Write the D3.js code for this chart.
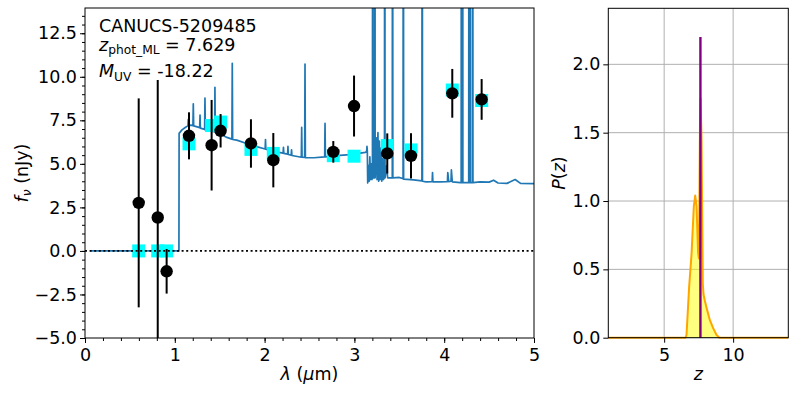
<!DOCTYPE html>
<html>
<head>
<meta charset="utf-8">
<script src="https://cdn.jsdelivr.net/npm/d3@7"></script>
<style>
  body { margin: 0; background: #fff; }
  text { font-family: "DejaVu Sans", sans-serif; }
</style>
</head>
<body>
<svg id="chart" width="797" height="399"></svg>
<script>
// ---- data ----
// model SED (wavelength in micron, flux in nJy)
var specLam = [0.056, 1.046, 1.048, 1.08, 1.12, 1.146, 1.150, 1.154, 1.18, 1.202, 1.206, 1.210,
  1.25, 1.277, 1.281, 1.285, 1.332, 1.336, 1.340, 1.40, 1.443, 1.447, 1.451, 1.50, 1.58,
  1.636, 1.640, 1.644, 1.69, 1.80, 1.90, 2.006, 2.010, 2.014, 2.10, 2.206, 2.210, 2.214,
  2.256, 2.260, 2.264, 2.296, 2.300, 2.304, 2.409, 2.413, 2.417, 2.446, 2.450, 2.454,
  2.55, 2.669, 2.673, 2.677, 2.80, 2.95, 3.05, 3.12, 3.136, 3.140, 3.144,
  3.148, 3.158, 3.165, 3.172, 3.180, 3.188, 3.195, 3.201, 3.204, 3.207, 3.225, 3.228, 3.231,
  3.245, 3.252, 3.262, 3.270, 3.278, 3.286, 3.296, 3.305, 3.315, 3.322, 3.335, 3.338, 3.341,
  3.36, 3.37, 3.422, 3.425, 3.428, 3.50, 3.542, 3.545, 3.548, 3.66, 3.752, 3.755, 3.758,
  3.80, 3.866, 3.870, 3.874, 3.95, 4.036, 4.040, 4.050, 4.076, 4.080, 4.090, 4.18,
  4.189, 4.192, 4.195, 4.202, 4.205, 4.208, 4.273, 4.276, 4.279, 4.285, 4.288, 4.291,
  4.314, 4.317, 4.320, 4.40, 4.50, 4.55, 4.60, 4.70, 4.79, 4.85, 5.0];
var specFlux = [0, 0, 6.75, 6.95, 7.1, 7.18, 7.55, 7.2, 7.22, 7.2, 8.45, 7.18,
  7.12, 7.08, 7.8, 7.05, 6.98, 8.78, 6.95, 6.88, 6.85, 9.4, 6.82, 6.75, 6.52,
  6.42, 10.77, 6.4, 6.36, 6.17, 6.0, 5.85, 6.4, 5.84, 5.72, 5.62, 5.95, 5.6,
  5.56, 6.0, 5.54, 5.5, 5.8, 5.48, 5.38, 7.09, 5.38, 5.37, 10.73, 5.36,
  5.35, 5.4, 7.32, 5.4, 5.47, 5.53, 5.6, 5.66, 5.7, 6.0, 5.72,
  3.9, 4.9, 4.0, 5.4, 4.1, 5.0, 4.1, 4.2, 40, 4.2, 4.2, 40, 4.2,
  6.5, 4.1, 6.8, 4.0, 6.3, 4.1, 5.9, 4.0, 5.3, 4.1, 4.2, 40, 4.2,
  4.9, 4.2, 4.2, 40, 4.2, 4.22, 4.15, 40, 4.12, 4.08, 4.02, 40, 4.0,
  3.97, 3.98, 4.5, 3.97, 3.97, 3.98, 4.5, 3.98, 4.0, 4.65, 3.97, 3.92,
  3.92, 40, 3.92, 3.92, 40, 3.92, 3.92, 40, 3.92, 3.92, 40, 3.92,
  3.92, 40, 3.92, 3.97, 3.95, 4.06, 3.9, 3.88, 4.1, 3.88, 3.86];

// photometry (observed) and model photometry
var photLam   = [0.598, 0.81, 0.909, 1.158, 1.41, 1.51, 1.848, 2.097, 2.765, 2.996, 3.366, 3.63, 4.09, 4.417];
var photFlux  = [2.76, 1.92, -1.17, 6.61, 6.07, 6.9, 6.17, 5.21, 5.69, 8.32, 5.6, 5.46, 9.05, 8.7];
var photErr   = [6.0, 7.9, 1.28, 1.35, 2.6, 0.96, 1.39, 1.56, 0.62, 1.75, 1.15, 1.3, 1.4, 1.17];
var modelFlux = [0, 0, 0, 6.15, 7.2, 7.4, 5.83, 5.6, 5.47, 5.44, 6.05, 5.8, 9.24, 8.64];

// redshift probability distribution
var pzZ = [0.95, 6.55, 6.62, 6.81, 6.99, 7.15, 7.25, 7.35, 7.46, 7.52, 7.60, 7.64, 7.71,
  7.80, 7.85, 7.95, 8.07, 8.31, 8.55, 8.80, 9.0, 14];
var pzP = [0, 0, 0.02, 0.37, 0.62, 0.96, 1.04, 0.96, 0.62, 0.58, 1.6, 1.75, 1.45,
  0.40, 0.32, 0.27, 0.22, 0.13, 0.07, 0.02, 0, 0];
var zBest = 7.629, zBestPeak = 2.2;

var xTicksL = [0, 1, 2, 3, 4, 5];
var yTicksL = [-5, -2.5, 0, 2.5, 5, 7.5, 10, 12.5];
var xTicksR = [5, 10];
var yTicksR = [0, 0.5, 1, 1.5, 2];

// ---- layout ----
var svg = d3.select("#chart");
var L = {left: 85, right: 534, top: 8, bottom: 338};
var R = {left: 608.3, right: 788.3, top: 8.3, bottom: 337.7};
var fs = 17.5;

var x = d3.scaleLinear().domain([0, 5]).range([L.left, L.right]);
var y = d3.scaleLinear().domain([-5, 13.95]).range([L.bottom, L.top]);
var xr = d3.scaleLinear().domain([0.95, 14]).range([R.left, R.right]);
var yr = d3.scaleLinear().domain([0, 2.41]).range([R.bottom, R.top]);

svg.append("defs").append("clipPath").attr("id", "clipL")
  .append("rect").attr("x", L.left).attr("y", L.top)
  .attr("width", L.right - L.left).attr("height", L.bottom - L.top);

// ---- left panel ----
var plotL = svg.append("g").attr("clip-path", "url(#clipL)");

var spec = specLam.map(function(d, i) { return [d, specFlux[i]]; });
var line = d3.line().x(function(d) { return x(d[0]); }).y(function(d) { return y(d[1]); });
plotL.append("path")
  .attr("d", line(spec))
  .attr("fill", "none")
  .attr("stroke", "#1f77b4")
  .attr("stroke-width", 1.7)
  .attr("stroke-linejoin", "round");

// model photometry squares
plotL.selectAll("rect.model").data(photLam).enter().append("rect")
  .attr("class", "model")
  .attr("x", function(d) { return x(d) - 6.5; })
  .attr("y", function(d, i) { return y(modelFlux[i]) - 6.5; })
  .attr("width", 13).attr("height", 13)
  .attr("fill", "#00ffff");

// zero line
plotL.append("line")
  .attr("x1", x(0)).attr("x2", x(5)).attr("y1", y(0)).attr("y2", y(0))
  .attr("stroke", "black").attr("stroke-width", 1.8).attr("stroke-dasharray", "2,2.6");

// error bars + points
plotL.selectAll("line.err").data(photLam).enter().append("line")
  .attr("class", "err")
  .attr("x1", function(d) { return x(d); }).attr("x2", function(d) { return x(d); })
  .attr("y1", function(d, i) { return y(photFlux[i] - photErr[i]); })
  .attr("y2", function(d, i) { return y(photFlux[i] + photErr[i]); })
  .attr("stroke", "black").attr("stroke-width", 2);
plotL.selectAll("circle.pt").data(photLam).enter().append("circle")
  .attr("class", "pt")
  .attr("cx", function(d) { return x(d); })
  .attr("cy", function(d, i) { return y(photFlux[i]); })
  .attr("r", 6.2).attr("fill", "black");

// axes
function styleAxis(g) {
  g.select(".domain").remove();
  g.attr("font-family", "DejaVu Sans").attr("font-size", fs);
  g.selectAll("line").attr("stroke", "black");
  g.selectAll("text").attr("fill", "black");
}
svg.append("g").attr("transform", "translate(0," + L.bottom + ")")
  .call(d3.axisBottom(x).tickValues(d3.range(0, 5.01, 0.2)).tickSize(3).tickFormat(""))
  .call(styleAxis);
svg.append("g").attr("transform", "translate(0," + L.bottom + ")")
  .call(d3.axisBottom(x).tickValues(xTicksL).tickSize(5).tickPadding(5.5).tickFormat(d3.format("d")))
  .call(styleAxis);
svg.append("g").attr("transform", "translate(" + L.left + ",0)")
  .call(d3.axisLeft(y).tickValues(d3.range(-5, 13.9, 0.5)).tickSize(3).tickFormat(""))
  .call(styleAxis);
svg.append("g").attr("transform", "translate(" + L.left + ",0)")
  .call(d3.axisLeft(y).tickValues(yTicksL).tickSize(5).tickPadding(3).tickFormat(d3.format(".1f")))
  .call(styleAxis);

svg.append("rect")
  .attr("x", L.left).attr("y", L.top)
  .attr("width", L.right - L.left).attr("height", L.bottom - L.top)
  .attr("fill", "none").attr("stroke", "black").attr("stroke-width", 1);

// labels
var xl = svg.append("text").attr("x", (L.left + L.right) / 2).attr("y", 380)
  .attr("text-anchor", "middle").attr("font-size", fs);
xl.append("tspan").attr("font-style", "italic").text("λ");
xl.append("tspan").text(" (");
xl.append("tspan").attr("font-style", "italic").text("μ");
xl.append("tspan").text("m)");

var yl = svg.append("text").attr("transform", "translate(27.5," + (L.top + L.bottom) / 2 + ") rotate(-90)")
  .attr("text-anchor", "middle").attr("font-size", fs);
yl.append("tspan").attr("font-style", "italic").text("f");
yl.append("tspan").attr("font-style", "italic").attr("font-size", 12.25).attr("dy", 3.5).text("ν");
yl.append("tspan").attr("dy", -3.5).text(" (nJy)");

// annotation
svg.append("text").attr("x", 99).attr("y", 32.3).attr("font-size", fs).text("CANUCS-5209485");
var t2 = svg.append("text").attr("x", 99).attr("y", 50.7).attr("font-size", fs);
t2.append("tspan").attr("font-style", "italic").text("z");
t2.append("tspan").attr("font-size", 12.25).attr("dy", 3.5).text("phot_ML");
t2.append("tspan").attr("dy", -3.5).text(" = 7.629");
var t3 = svg.append("text").attr("x", 99).attr("y", 77.3).attr("font-size", fs);
t3.append("tspan").attr("font-style", "italic").text("M");
t3.append("tspan").attr("font-size", 12.25).attr("dy", 3.5).text("UV");
t3.append("tspan").attr("dy", -3.5).text(" = -18.22");

// ---- right panel ----
var gridR = svg.append("g");
gridR.selectAll("line.gx").data(xTicksR).enter().append("line")
  .attr("x1", function(d) { return xr(d); }).attr("x2", function(d) { return xr(d); })
  .attr("y1", R.top).attr("y2", R.bottom)
  .attr("stroke", "#b0b0b0").attr("stroke-width", 1);
gridR.selectAll("line.gy").data(yTicksR).enter().append("line")
  .attr("x1", R.left).attr("x2", R.right)
  .attr("y1", function(d) { return yr(d); }).attr("y2", function(d) { return yr(d); })
  .attr("stroke", "#b0b0b0").attr("stroke-width", 1);

var pz = pzZ.map(function(d, i) { return [d, pzP[i]]; });
svg.append("path")
  .attr("d", d3.area().x(function(d) { return xr(d[0]); }).y0(yr(0)).y1(function(d) { return yr(d[1]); })(pz))
  .attr("fill", "yellow").attr("fill-opacity", 0.5);
svg.append("path")
  .attr("d", d3.line().x(function(d) { return xr(d[0]); }).y(function(d) { return yr(d[1]); })(pz))
  .attr("fill", "none").attr("stroke", "orange").attr("stroke-width", 2)
  .attr("stroke-linejoin", "round");
svg.append("path")
  .attr("d", d3.line().x(function(d) { return xr(d[0]); }).y(function(d) { return yr(d[1]); })([[zBest, 0], [zBest, zBestPeak]]))
  .attr("stroke", "purple").attr("stroke-width", 2.4);

svg.append("g").attr("transform", "translate(0," + R.bottom + ")")
  .call(d3.axisBottom(xr).tickValues(xTicksR).tickSize(5).tickPadding(5.5).tickFormat(d3.format("d")))
  .call(styleAxis);
svg.append("g").attr("transform", "translate(" + R.left + ",0)")
  .call(d3.axisLeft(yr).tickValues(yTicksR).tickSize(5).tickPadding(3).tickFormat(d3.format(".1f")))
  .call(styleAxis);

svg.append("rect")
  .attr("x", R.left).attr("y", R.top)
  .attr("width", R.right - R.left).attr("height", R.bottom - R.top)
  .attr("fill", "none").attr("stroke", "black").attr("stroke-width", 1);

var zl = svg.append("text").attr("x", (R.left + R.right) / 2).attr("y", 380)
  .attr("text-anchor", "middle").attr("font-size", fs);
zl.append("tspan").attr("font-style", "italic").text("z");

var pl = svg.append("text").attr("transform", "translate(565," + (R.top + R.bottom) / 2 + ") rotate(-90)")
  .attr("text-anchor", "middle").attr("font-size", fs);
pl.append("tspan").attr("font-style", "italic").text("P");
pl.append("tspan").text("(");
pl.append("tspan").attr("font-style", "italic").text("z");
pl.append("tspan").text(")");
</script>
</body>
</html>
